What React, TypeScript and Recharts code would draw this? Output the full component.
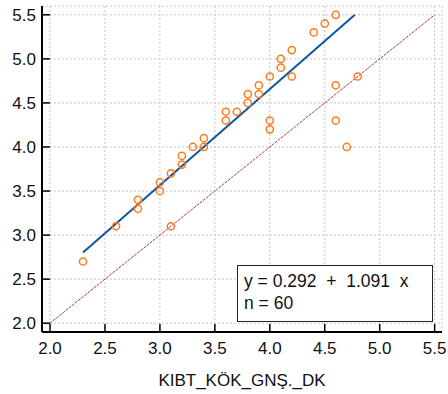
import React from 'react';
import { ScatterChart, Scatter, XAxis, YAxis, CartesianGrid, ReferenceLine } from 'recharts';

const xValues = [2.3, 2.6, 2.8, 2.8, 3.0, 3.0, 3.1, 3.1, 3.2, 3.2, 3.3, 3.4, 3.4, 3.6, 3.6, 3.7, 3.8, 3.8, 3.9, 3.9, 4.0, 4.0, 4.0, 4.1, 4.1, 4.2, 4.2, 4.4, 4.5, 4.6, 4.6, 4.6, 4.7, 4.8];
const yValues = [2.7, 3.1, 3.3, 3.4, 3.5, 3.6, 3.1, 3.7, 3.8, 3.9, 4.0, 4.0, 4.1, 4.3, 4.4, 4.4, 4.5, 4.6, 4.6, 4.7, 4.8, 4.3, 4.2, 4.9, 5.0, 5.1, 4.8, 5.3, 5.4, 5.5, 4.7, 4.3, 4.0, 4.8];

const intercept = 0.292;
const slope = 1.091;
const nObs = 60;
const fitRange = [2.3, 4.774];
const identityRange = [2.0, 5.5];

const axisTicks = [2.0, 2.5, 3.0, 3.5, 4.0, 4.5, 5.0, 5.5];
const xDomain = [1.927, 5.567];
const yDomain = [1.9, 5.6];
const xLabel = 'KIBT_KÖK_GNŞ._DK';

const points = xValues.map((x, i) => ({ x, y: yValues[i] }));
const fitSegment = fitRange.map((x) => ({ x, y: intercept + slope * x }));
const identitySegment = identityRange.map((v) => ({ x: v, y: v }));

const FONT = '"Liberation Sans", Arial, sans-serif';

const XTick = (props: any) => {
  const { x, y, payload } = props;
  return (
    <g>
      <line x1={x} x2={x} y1={y} y2={y - 8} stroke="#000" strokeWidth={1.5} />
      <text x={x} y={y + 22} textAnchor="middle" fontSize={17} fontFamily={FONT} fill="#111">
        {Number(payload.value).toFixed(1)}
      </text>
    </g>
  );
};

const YTick = (props: any) => {
  const { x, y, payload } = props;
  return (
    <g>
      <line x1={x} x2={x + 8} y1={y} y2={y} stroke="#000" strokeWidth={1.5} />
      <text x={x - 6} y={y + 6} textAnchor="end" fontSize={17} fontFamily={FONT} fill="#111">
        {Number(payload.value).toFixed(1)}
      </text>
    </g>
  );
};

const OpenCircle = (props: any) => {
  const { cx, cy } = props;
  return <circle cx={cx} cy={cy} r={3.6} fill="none" stroke="#ff7a1a" strokeWidth={1.5} />;
};

export default function App() {
  return (
    <div style={{ position: 'absolute', left: 0, top: 0, width: 448, height: 394, background: '#fff' }}>
      <ScatterChart width={448} height={394} margin={{ top: 6, right: 6, bottom: 0, left: 0 }}>
        <CartesianGrid stroke="#c4c4c4" strokeDasharray="2 2" />
        <XAxis
          type="number"
          dataKey="x"
          domain={xDomain}
          ticks={axisTicks}
          allowDataOverflow
          height={62}
          tickSize={0}
          tickMargin={0}
          tickLine={false}
          tick={<XTick />}
          axisLine={{ stroke: '#000', strokeWidth: 2 }}
          label={{ value: xLabel, position: 'insideBottom', offset: 8, fontSize: 17, fontFamily: FONT, fill: '#111' }}
        />
        <YAxis
          type="number"
          dataKey="y"
          domain={yDomain}
          ticks={axisTicks}
          allowDataOverflow
          width={42}
          tickSize={0}
          tickMargin={0}
          tickLine={false}
          tick={<YTick />}
          axisLine={{ stroke: '#000', strokeWidth: 2 }}
        />
        <ReferenceLine segment={identitySegment} stroke="#a8252a" strokeWidth={0.9} strokeDasharray="3 1" ifOverflow="visible" />
        <ReferenceLine segment={fitSegment} stroke="#0d56a6" strokeWidth={2} ifOverflow="visible" />
        <Scatter data={points} shape={<OpenCircle />} isAnimationActive={false} />
      </ScatterChart>
      <div
        style={{
          position: 'absolute',
          left: 237,
          top: 265,
          width: 196,
          height: 57,
          border: '1.5px solid #222',
          background: '#fff',
          fontFamily: FONT,
          fontSize: 17.5,
          color: '#111',
          whiteSpace: 'pre',
          lineHeight: '22px',
          boxSizing: 'border-box',
          padding: '4px 0 0 6px',
        }}
      >
        <div>{`y = ${intercept.toFixed(3)}  +  ${slope.toFixed(3)}  x`}</div>
        <div>{`n = ${nObs}`}</div>
      </div>
    </div>
  );
}
